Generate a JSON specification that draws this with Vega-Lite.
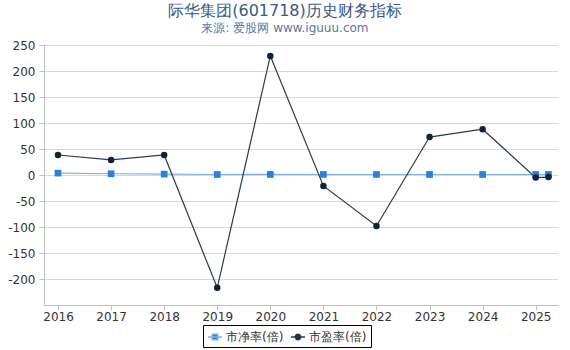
{
  "$schema": "https://vega.github.io/schema/vega-lite/v6.json",
  "width": 514,
  "height": 260,
  "autosize": "none",
  "padding": {"left": 44, "top": 45, "right": 12, "bottom": 45},
  "background": "white",
  "title": {
    "text": "际华集团(601718)历史财务指标",
    "subtitle": "来源: 爱股网 www.iguuu.com",
    "anchor": "middle",
    "frame": "group",
    "dx": -16,
    "offset": 5,
    "font": "DejaVu Sans",
    "fontSize": 16,
    "fontWeight": "normal",
    "color": "#3b5a7e",
    "subtitleFont": "DejaVu Sans",
    "subtitleFontSize": 12,
    "subtitleColor": "#5577a3",
    "subtitlePadding": 4
  },
  "config": {
    "view": {"stroke": null},
    "font": "DejaVu Sans",
    "axis": {
      "labelFont": "DejaVu Sans",
      "labelFontSize": 12,
      "labelColor": "#333333",
      "domainColor": "#c0c0c0",
      "tickColor": "#c0c0c0",
      "gridColor": "#d8d8d8",
      "title": null
    }
  },
  "data": {
    "values": [
      {"year": 2016, "series": "市净率(倍)", "value": 3.6},
      {"year": 2017, "series": "市净率(倍)", "value": 2.4},
      {"year": 2018, "series": "市净率(倍)", "value": 1.7},
      {"year": 2019, "series": "市净率(倍)", "value": 1.0},
      {"year": 2020, "series": "市净率(倍)", "value": 1.1},
      {"year": 2021, "series": "市净率(倍)", "value": 1.0},
      {"year": 2022, "series": "市净率(倍)", "value": 1.0},
      {"year": 2023, "series": "市净率(倍)", "value": 1.0},
      {"year": 2024, "series": "市净率(倍)", "value": 1.0},
      {"year": 2025, "series": "市净率(倍)", "value": 1.0},
      {"year": 2025.24, "series": "市净率(倍)", "value": 1.0},
      {"year": 2016, "series": "市盈率(倍)", "value": 38.5},
      {"year": 2017, "series": "市盈率(倍)", "value": 29},
      {"year": 2018, "series": "市盈率(倍)", "value": 38.5},
      {"year": 2019, "series": "市盈率(倍)", "value": -217},
      {"year": 2020, "series": "市盈率(倍)", "value": 229},
      {"year": 2021, "series": "市盈率(倍)", "value": -21},
      {"year": 2022, "series": "市盈率(倍)", "value": -98},
      {"year": 2023, "series": "市盈率(倍)", "value": 73},
      {"year": 2024, "series": "市盈率(倍)", "value": 88},
      {"year": 2025, "series": "市盈率(倍)", "value": -5},
      {"year": 2025.24, "series": "市盈率(倍)", "value": -4}
    ]
  },
  "encoding": {
    "x": {
      "field": "year",
      "type": "quantitative",
      "scale": {"domain": [2015.736, 2025.42], "nice": false, "zero": false},
      "axis": {"values": [2016, 2017, 2018, 2019, 2020, 2021, 2022, 2023, 2024, 2025], "format": "d", "grid": false, "tickSize": 5, "labelPadding": 1}
    },
    "y": {
      "field": "value",
      "type": "quantitative",
      "scale": {"domain": [-250, 250], "nice": false},
      "axis": {"values": [-200, -150, -100, -50, 0, 50, 100, 150, 200, 250], "labelExpr": "'' + datum.value", "grid": true, "tickSize": 5, "labelPadding": 4}
    }
  },
  "layer": [
    {
      "mark": {"type": "line", "strokeWidth": 1.2},
      "encoding": {
        "color": {
          "field": "series",
          "type": "nominal",
          "scale": {"domain": ["市净率(倍)", "市盈率(倍)"], "range": ["#7fb0e6", "#2b3a4d"]},
          "legend": {
            "title": null,
            "orient": "none",
            "legendX": 159,
            "legendY": 280,
            "direction": "horizontal",
            "strokeColor": "#000000",
            "fillColor": "#ffffff",
            "padding": 4,
            "labelFont": "DejaVu Sans",
            "labelFontSize": 12,
            "labelColor": "#333333",
            "symbolSize": 196,
            "symbolStrokeWidth": 1.5,
            "columnPadding": 4,
            "labelOffset": 3,
            "encode": {
              "symbols": {
                "update": {
                  "shape": {"signal": "datum.value === '市净率(倍)' ? 'M-1,0H1M-0.4,-0.4H0.4V0.4H-0.4Z' : 'M-1,0H1M0.38,0A0.38,0.38 0 1,1 -0.38,0A0.38,0.38 0 1,1 0.38,0Z'"},
                  "fill": {"signal": "datum.value === '市净率(倍)' ? '#2f7ed8' : '#0d233a'"},
                  "fillOpacity": {"value": 1},
                  "size": {"value": 196}
                }
              }
            }
          }
        }
      }
    },
    {
      "transform": [{"filter": "datum.series === '市净率(倍)'"}],
      "mark": {"type": "point", "filled": true, "opacity": 1, "shape": "square", "size": 45, "color": "#2f7ed8"}
    },
    {
      "transform": [{"filter": "datum.series === '市盈率(倍)'"}],
      "mark": {"type": "point", "filled": true, "opacity": 1, "shape": "circle", "size": 42, "color": "#0d233a"}
    }
  ]
}
